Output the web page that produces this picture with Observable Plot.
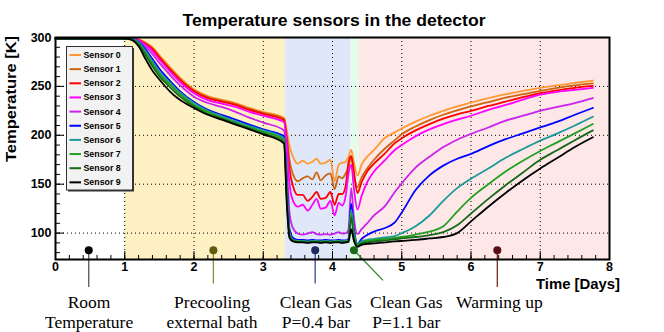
<!DOCTYPE html>
<html><head><meta charset="utf-8">
<script src="https://cdn.jsdelivr.net/npm/d3@7"></script>
<script src="https://cdn.jsdelivr.net/npm/@observablehq/plot@0.6"></script>
<style>
body{margin:0;background:#fff;}
#wrap{position:relative;width:664px;height:332px;overflow:hidden;}
#wrap svg{display:block;}
#overlay{position:absolute;left:0;top:0;pointer-events:none;}
</style></head>
<body><div id="wrap"></div>
<script>
// ---- data ----
const days = [0, 1.0, 1.1, 1.2, 1.3, 1.4, 1.5, 1.65, 1.8, 2.0, 2.2, 2.4, 2.6, 2.8, 3.0, 3.3, 3.34, 3.38, 3.43, 3.5, 3.57, 3.64, 3.71, 3.77, 3.83, 3.9, 3.97, 4.03, 4.09, 4.14, 4.19, 4.23, 4.27, 4.31, 4.36, 4.42, 4.5, 4.6, 4.75, 4.9, 5.0, 5.2, 5.4, 5.6, 5.8, 6.0, 6.25, 6.5, 6.75, 7.0, 7.25, 7.5, 7.76];

const sensor0 = [299, 299, 299, 298, 295, 290, 282, 270, 259, 247, 240, 236.5, 233, 228, 224, 218,
  205, 189, 178, 171,
  174, 171, 173, 176, 171, 172, 175, 153, 170, 172, 173, 178, 185, 172, 159, 170,
  178, 185, 197, 203, 207, 214, 220, 225, 229.5, 233.5, 238, 242, 245.5, 248.5, 251, 253.5, 256];
const sensor1 = [299, 299, 299, 297.5, 294, 289, 280.5, 268.5, 257.5, 246, 239, 235.5, 232, 227, 223, 217,
  200, 174, 160, 153,
  156, 158, 155, 162, 154, 159, 161, 145, 158, 156, 161, 167, 178, 160, 147, 157,
  166, 175, 186, 195, 201, 209, 215.5, 221, 225.5, 229.5, 234, 238.5, 242, 245.5, 248.5, 251, 253];
const sensor2 = [299, 299, 299, 297.5, 293.5, 288, 279.5, 267.5, 256.5, 245, 238, 234.5, 231, 226, 222, 215.5,
  195, 165, 148, 139,
  139, 133, 137, 142, 135, 136, 142, 129, 140, 140, 148, 172, 179, 162, 141, 152,
  163, 171, 181, 192, 197, 205, 211.5, 217, 221.5, 225, 230, 234.5, 239, 243, 246, 248.5, 250.5];
const sensor3 = [299, 299, 299, 297, 292.5, 286, 277.5, 265.5, 254.5, 243, 236, 232.5, 229, 224, 220, 213.5,
  190, 150, 133, 127,
  129, 123, 129, 135, 125, 126, 133, 118, 131, 128, 138, 160, 170, 145, 124, 138,
  152, 163, 174, 185, 190, 199, 206, 211.5, 216, 220, 226, 231, 236.5, 241.5, 244.5, 246.5, 248.5];
const sensor4 = [299, 299, 299, 296.5, 291, 283, 274, 262, 251, 239.5, 233, 229, 224, 218, 213, 205,
  170, 120, 105, 99.5,
  98.5, 99.5, 101, 99, 98.5, 99, 98.5, 99.5, 101, 99.5, 100, 103, 146, 115, 99, 104,
  110, 118, 127, 142, 151, 167, 178, 188, 195.5, 201.5, 208, 215, 220, 225, 229, 233, 238];
const sensor5 = [299, 299, 298.5, 295.5, 288, 278, 268, 256, 245, 234, 226, 221, 216, 211, 206, 199,
  150, 104, 95, 93,
  93, 92.5, 93, 92.5, 92.5, 93, 92.5, 92.5, 93, 92.5, 92.5, 94, 130, 104, 89, 94,
  98, 101.5, 105, 111, 121, 144, 159, 169, 176, 181, 189, 196, 202, 208, 214, 221, 228];
const sensor6 = [299, 299, 298.5, 295, 286, 275.5, 265, 254, 243.5, 233, 225, 219.5, 214.5, 209.5, 205, 197,
  145, 100, 93, 92,
  92, 91.5, 92, 92, 91.5, 92, 91.5, 92, 92, 91.5, 92, 93, 124, 100, 88.5, 91.5,
  93, 94, 95.5, 97, 100, 107, 118, 133, 146, 155.5, 166, 177, 186, 194.5, 202, 210, 219];
const sensor7 = [299, 299, 298, 294, 284, 273, 263, 252, 242, 231, 224, 218, 213, 208, 203.5, 195.5,
  140, 98, 92.5, 91.5,
  91.5, 91, 91.5, 91.5, 91, 91.5, 91, 91.5, 91.5, 91, 91.5, 92.5, 120, 97, 88, 90.5,
  92, 93, 94, 95, 96, 98.5, 101.5, 107, 122, 136, 150, 163, 174, 184, 193, 202, 211.5];
const sensor8 = [299, 299, 298, 293, 282, 270.5, 260.5, 249.5, 239.5, 229.5, 222, 217, 212, 207, 202, 193.5,
  135, 96, 92, 91,
  91, 90.5, 91, 91, 90.5, 91, 90.5, 91, 91, 90.5, 91, 92, 116, 95, 87, 89.5,
  90.5, 91.5, 92.5, 93.5, 94.5, 96, 98, 101, 108, 120, 135, 149, 162, 175, 185, 195, 205];
const sensor9 = [299, 299, 297.5, 291, 278, 266, 257, 245, 236, 228, 221, 216, 211, 206, 201, 191.5,
  130, 95, 91.5, 90.5,
  90.5, 90, 90.5, 90.5, 90, 90.5, 90, 90.5, 90.5, 90, 90.5, 91, 104, 92, 86, 88,
  89, 89.5, 90.5, 91.5, 92, 93, 94.5, 96, 100, 112, 127, 141, 154, 166, 177, 188, 198];

const sensorNames = ["Sensor 0","Sensor 1","Sensor 2","Sensor 3","Sensor 4","Sensor 5","Sensor 6","Sensor 7","Sensor 8","Sensor 9"];

// phases (background bands), in days
const phaseStart = [1.0, 3.32, 4.26, 4.39];
const phaseEnd   = [3.32, 4.26, 4.39, 8.0];

// annotation markers
const markerDay     = [0.48, 2.28, 3.75, 4.31, 6.38];
const markerTemp    = [82.5, 82.5, 82.5, 82.5, 82.5];
const leaderEndDay  = [0.48, 2.28, 3.75, 4.73, 6.38];
const leaderEndTemp = [45, 48.4, 48.4, 51.7, 45];
const labelDay      = [0.485, 2.26, 3.76, 5.065, 6.41];
const labelText     = ["Room\nTemperature", "Precooling\nexternal bath", "Clean Gas\nP=0.4 bar", "Clean Gas\nP=1.1 bar", "Warming up"];

// axes
const xTicks = [0, 1, 2, 3, 4, 5, 6, 7, 8];
const yTicks = [100, 150, 200, 250, 300];
const xDomain = [0, 8];
const yDomain = [73, 300];

// ---- styles ----
const sensorColors = ["#ff9933","#cc6611","#ff0000","#ff00ff","#cc22ee","#0000ff","#1a9a9a","#22a022","#176a17","#000000"];
const phaseFill = ["#fdf1c4", "#dfe7f9", "#e6fbea", "#fde7e7"];
const markerColor = ["#000000", "#5c5c10", "#1c2a5c", "#1a6a1a", "#5a0c14"];
const leaderColor = ["#555555", "#8a8a3a", "#30508a", "#2a8a2a", "#7a2a2a"];

const W = 664, H = 332, mL = 55, mR = 55, mT = 37, mB = 73;
const frameW = W - mL - mR, frameH = H - mT - mB;

const sensors = [sensor0,sensor1,sensor2,sensor3,sensor4,sensor5,sensor6,sensor7,sensor8,sensor9];
const xMinor = d3.range(0, 8.001, 0.2).map(v => +v.toFixed(2));
const yMinor = d3.range(80, 300.001, 10);

const marks = [];
phaseStart.forEach((s, i) => {
  marks.push(Plot.rect([{s, e: phaseEnd[i]}], {x1: "s", x2: "e", fill: phaseFill[i]}));
});
marks.push(Plot.gridX(xTicks, {stroke: "#000", strokeOpacity: 1, strokeWidth: 1, strokeDasharray: "1,3"}));
marks.push(Plot.gridY(yTicks, {stroke: "#000", strokeOpacity: 1, strokeWidth: 1, strokeDasharray: "1,3"}));
marks.push(Plot.ruleX(xMinor, {x: d => d, insetTop: frameH - 4, stroke: "#000"}));
marks.push(Plot.ruleX(xTicks, {x: d => d, insetTop: frameH - 8, stroke: "#000"}));
marks.push(Plot.ruleY(yMinor, {y: d => d, insetRight: frameW - 5, stroke: "#000"}));
marks.push(Plot.ruleY(yTicks, {y: d => d, insetRight: frameW - 9, stroke: "#000"}));

sensors.forEach((vals, i) => {
  const rows = vals.map((T, j) => ({t: days[j], T}));
  marks.push(Plot.line(rows, {x: "t", y: "T", stroke: sensorColors[i], strokeWidth: 1.8, curve: "monotone-x"}));
});

const ann = markerDay.map((d, i) => ({d, T: markerTemp[i], d2: leaderEndDay[i], T2: leaderEndTemp[i], ld: labelDay[i], text: labelText[i], i}));
ann.forEach(a => {
  marks.push(Plot.link([a], {x1: "d", y1: "T", x2: "d2", y2: "T2", stroke: leaderColor[a.i], strokeWidth: 1.3}));
  marks.push(Plot.dot([a], {x: "d", y: "T", r: 4, fill: markerColor[a.i], stroke: "none"}));
});
marks.push(Plot.text(ann, {x: "ld", text: "text", frameAnchor: "bottom", lineAnchor: "top", dy: 34, lineHeight: 1.15,
  fontFamily: "'Liberation Serif', 'Times New Roman', serif", fontSize: 17.5, fill: "#000"}));

marks.push(Plot.axisX(xTicks, {tickSize: 0, tickPadding: 3, label: null, fontWeight: "bold", fontSize: 12.5, fill: "#000"}));
marks.push(Plot.axisY(yTicks, {tickSize: 0, tickPadding: 4, label: null, fontWeight: "bold", fontSize: 12.5, fill: "#000"}));
marks.push(Plot.frame({stroke: "#000", strokeWidth: 2}));

const chart = Plot.plot({
  width: W, height: H,
  marginLeft: mL, marginRight: mR, marginTop: mT, marginBottom: mB,
  x: {domain: xDomain},
  y: {domain: yDomain},
  style: {fontFamily: "'Liberation Sans', Arial, Helvetica, sans-serif", fontSize: "12.5px", background: "#fff", overflow: "visible"},
  marks
});
const wrap = document.getElementById("wrap");
wrap.appendChild(chart);

// overlay: title, axis titles, legend
const ov = d3.select(wrap).append("svg").attr("id", "overlay").attr("width", W).attr("height", H)
  .attr("font-family", "'Liberation Sans', Arial, Helvetica, sans-serif").attr("font-weight", "bold");
ov.append("text").attr("x", 334).attr("y", 26).attr("text-anchor", "middle").attr("font-size", 17)
  .attr("textLength", 303).attr("lengthAdjust", "spacingAndGlyphs").text("Temperature sensors in the detector");
ov.append("text").attr("transform", "translate(16,36) rotate(-90)").attr("text-anchor", "end").attr("font-size", 14.5)
  .attr("textLength", 126).attr("lengthAdjust", "spacingAndGlyphs").text("Temperature [K]");
ov.append("text").attr("x", 620).attr("y", 289).attr("text-anchor", "end").attr("font-size", 14.5)
  .attr("textLength", 84).attr("lengthAdjust", "spacingAndGlyphs").text("Time [Days]");

const lg = ov.append("g");
lg.append("rect").attr("x", 68).attr("y", 48).attr("width", 66).attr("height", 143.5).attr("fill", "#333");
lg.append("rect").attr("x", 66.5).attr("y", 46.5).attr("width", 66).attr("height", 143.5).attr("fill", "#f2f2f2").attr("stroke", "#333").attr("stroke-width", 1);
sensorNames.forEach((name, i) => {
  const y = 55 + i * 14.15;
  lg.append("line").attr("x1", 69.5).attr("x2", 81).attr("y1", y).attr("y2", y).attr("stroke", sensorColors[i]).attr("stroke-width", 2);
  lg.append("text").attr("x", 83.5).attr("y", y + 3).attr("font-size", 8.8).attr("fill", "#000").text(name);
});
</script>
</body></html>
